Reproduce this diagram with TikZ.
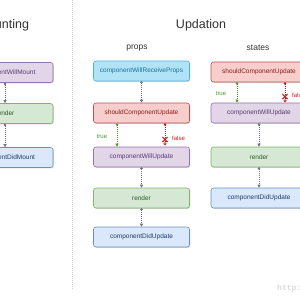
\documentclass[tikz,border=0pt]{standalone}
\usepackage{fontspec}
\setmainfont{Liberation Sans}
\usetikzlibrary{arrows.meta,shadows}
\definecolor{pfill}{HTML}{E1D5E7}\definecolor{pdraw}{HTML}{9673A6}\definecolor{ptext}{HTML}{5B3A75}
\definecolor{gfill}{HTML}{D5E8D4}\definecolor{gdraw}{HTML}{82B366}\definecolor{gtext}{HTML}{2D5A27}
\definecolor{bfill}{HTML}{DAE8FC}\definecolor{bdraw}{HTML}{6C8EBF}\definecolor{btext}{HTML}{1F3A66}
\definecolor{cfill}{HTML}{B1E3F7}\definecolor{cdraw}{HTML}{4FB3DD}\definecolor{ctext}{HTML}{1A6FA0}
\definecolor{rfill}{HTML}{F8CECC}\definecolor{rdraw}{HTML}{B85450}\definecolor{rtext}{HTML}{8B1A1A}
\definecolor{arrgray}{HTML}{6B7480}\definecolor{tgreen}{HTML}{4D9A2A}\definecolor{fred}{HTML}{D01818}
\definecolor{divider}{HTML}{C5DCC0}\definecolor{titlec}{HTML}{333333}
\begin{document}
\begin{tikzpicture}[x=1pt,y=-1pt,
  box/.style={draw, rounded corners=2.5pt, minimum width=96pt, minimum height=20pt, inner sep=0pt,
    font=\fontsize{6.5}{7}\selectfont, line width=0.6pt,
    drop shadow={shadow xshift=0.9pt, shadow yshift=-0.9pt, fill=black!30, opacity=0.5}},
  pbox/.style={box, fill=pfill, draw=pdraw, text=ptext},
  gbox/.style={box, fill=gfill, draw=gdraw, text=gtext},
  bbox/.style={box, fill=bfill, draw=bdraw, text=btext},
  cbox/.style={box, fill=cfill, draw=cdraw, text=ctext},
  rbox/.style={box, fill=rfill, draw=rdraw, text=rtext},
  flow/.style={draw=#1, line width=0.6pt, dash pattern=on 0.8pt off 1.2pt,
    {Circle[length=2.4pt,fill=#1]}-{Triangle[length=3pt,width=3pt,fill=#1]}},
  flowfalse/.style={draw=fred, line width=0.6pt, dash pattern=on 0.8pt off 1.2pt,
    {Circle[length=2.4pt,fill=fred]}-},
  title/.style={font=\fontsize{12.5}{14}\selectfont, text=titlec},
  subtitle/.style={font=\fontsize{8.5}{10}\selectfont, text=titlec},
  lbl/.style={font=\fontsize{6}{7}\selectfont, inner sep=0pt}
]
\useasboundingbox (0,0) rectangle (300,300);
\clip (0,0) rectangle (300,300);
\fill[white] (0,0) rectangle (300,300);

% divider
\draw[divider, line width=0.8pt, dash pattern=on 1pt off 1pt] (72,0) -- (72,290);

% titles
\node[title, anchor=east] (tmount) at (32.5,25) {Mounting};
\node[title] (tupd) at (201,25) {Updation};
\node[subtitle] (tprops) at (137,48) {props};
\node[subtitle] (tstates) at (258,48) {states};

% mounting column
\node[pbox] (m1) at (5,72.5) {componentWillMount};
\node[gbox] (m2) at (5,113.5) {render};
\node[bbox] (m3) at (5,157.5) {componentDidMount};
\draw[flow=arrgray] (m1.south) -- (m2.north);
\draw[flow=arrgray] (m2.south) -- (m3.north);

% props column
\node[cbox] (p1) at (141.5,71) {componentWillReceiveProps};
\node[rbox] (p2) at (141.5,113) {shouldComponentUpdate};
\node[pbox] (p3) at (141.5,157) {componentWillUpdate};
\node[gbox] (p4) at (141.5,198) {render};
\node[bbox] (p5) at (141.5,237) {componentDidUpdate};
\draw[flow=arrgray] (p1.south) -- (p2.north);
\draw[flow=tgreen] ([xshift=-24.5pt]p2.south) -- ([xshift=-24.5pt]p3.north);
\node[lbl, text=tgreen] (ptrue) at (102,136.5) {true};
\coordinate (pxc) at (165,139.5);
\draw[flowfalse] ([xshift=23.5pt]p2.south) -- ([yshift=-3pt]pxc);
\draw[fred, line width=1.1pt] ([shift={(-2.6,-2.4)}]pxc) -- ([shift={(2.6,2.6)}]pxc)
                             ([shift={(2.6,-2.4)}]pxc) -- ([shift={(-2.6,2.6)}]pxc);
\draw[fred, line width=0.7pt, fill=white] ([yshift=-4.2pt]pxc) circle (1.2pt);
\node[lbl, text=fred, anchor=west] (pfalse) at (172,138.5) {false};
\draw[flow=arrgray] (p3.south) -- (p4.north);
\draw[flow=arrgray] (p4.south) -- (p5.north);

% states column
\node[rbox] (s1) at (259,72) {shouldComponentUpdate};
\node[pbox] (s2) at (259,113) {componentWillUpdate};
\node[gbox] (s3) at (259,157) {render};
\node[bbox] (s4) at (259,198) {componentDidUpdate};
\draw[flow=tgreen] ([xshift=-22pt]s1.south) -- ([xshift=-22pt]s2.north);
\node[lbl, text=tgreen] (strue) at (221,94) {true};
\coordinate (sxc) at (285,96.5);
\draw[flowfalse] ([xshift=26pt]s1.south) -- ([yshift=-3pt]sxc);
\draw[fred, line width=1.1pt] ([shift={(-2.6,-2.4)}]sxc) -- ([shift={(2.6,2.6)}]sxc)
                             ([shift={(2.6,-2.4)}]sxc) -- ([shift={(-2.6,2.6)}]sxc);
\draw[fred, line width=0.7pt, fill=white] ([yshift=-4.2pt]sxc) circle (1.2pt);
\node[lbl, text=fred, anchor=west] (sfalse) at (292,95.5) {false};
\draw[flow=arrgray] (s2.south) -- (s3.north);
\draw[flow=arrgray] (s3.south) -- (s4.north);

% watermark
\node[font=\fontsize{8}{9}\selectfont\fontspec{Liberation Mono}\bfseries, text=black!15, anchor=west, inner sep=0pt] (wm) at (277,288) {http:};
\end{tikzpicture}
\end{document}
